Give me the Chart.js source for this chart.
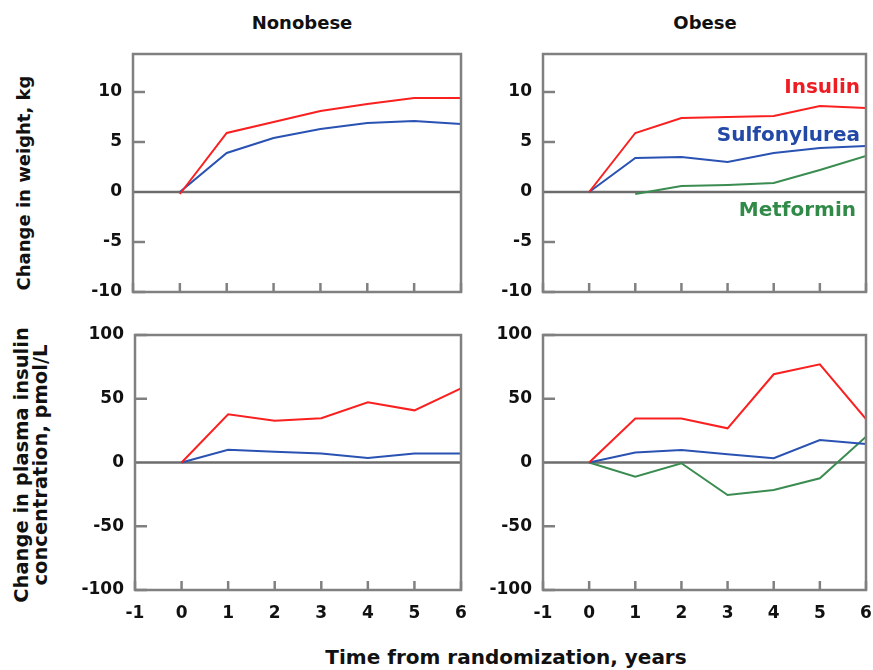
<!DOCTYPE html>
<html><head><meta charset="utf-8">
<script src="https://cdn.jsdelivr.net/npm/chart.js@4/dist/chart.umd.min.js"></script>
<style>
html,body{margin:0;padding:0;background:#fff;}
body{width:873px;height:670px;position:relative;overflow:hidden;font-family:"DejaVu Sans",Verdana,sans-serif;font-weight:bold;}
canvas{position:absolute;}
.t{position:absolute;white-space:nowrap;font-size:18px;color:#111;transform:translate(-50%,-50%);}
.r{position:absolute;white-space:nowrap;font-size:18px;color:#111;text-align:center;line-height:19px;transform:translate(-50%,-50%) rotate(-90deg);}
.lg{position:absolute;white-space:nowrap;font-size:20px;transform:translate(-100%,-50%);}
</style></head><body>
<canvas id="c1"></canvas><canvas id="c2"></canvas><canvas id="c3"></canvas><canvas id="c4"></canvas>
<div class="t" style="left:302px;top:22px">Nonobese</div>
<div class="t" style="left:705px;top:22px">Obese</div>
<div class="t" style="left:506px;top:657px;font-size:20px">Time from randomization, years</div>
<div class="r" style="left:23px;top:183px">Change in weight, kg</div>
<div class="r" style="left:31px;top:465px;font-size:19.5px">Change in plasma insulin<br>concentration, pmol/L</div>
<div class="lg" style="left:860px;top:86px;color:#ee1d23">Insulin</div>
<div class="lg" style="left:860px;top:134px;color:#2249a6">Sulfonylurea</div>
<div class="lg" style="left:856px;top:209px;color:#318a47">Metformin</div>
<script>
// ---- data ----
const years = [0, 1, 2, 3, 4, 5, 6];
const xTicks = [-1, 0, 1, 2, 3, 4, 5, 6];
const weightTicks = [-10, -5, 0, 5, 10];
const insulinTicks = [-100, -50, 0, 50, 100];

const weightNonobeseInsulin = [-0.2, 5.9, 7.0, 8.1, 8.8, 9.4, 9.4];
const weightNonobeseSulfonylurea = [0, 3.9, 5.4, 6.3, 6.9, 7.1, 6.8];
const weightObeseInsulin = [0, 5.9, 7.4, 7.5, 7.6, 8.6, 8.4];
const weightObeseSulfonylurea = [0, 3.4, 3.5, 3.0, 3.9, 4.4, 4.6];
const weightObeseMetformin = [null, -0.2, 0.6, 0.7, 0.9, 2.2, 3.6];

const insulinNonobeseInsulin = [0, 37.8, 32.8, 34.7, 47.2, 40.9, 58.2];
const insulinNonobeseSulfonylurea = [0, 10, 8.5, 7, 3.5, 7, 7];
const insulinObeseInsulin = [0, 34.5, 34.5, 26.8, 69.2, 77.0, 34.0];
const insulinObeseSulfonylurea = [0, 7.8, 9.8, 6.4, 3.3, 17.6, 14.5];
const insulinObeseMetformin = [0, -11.1, -0.6, -25.5, -21.6, -12.4, 20.2];

// ---- styles ----
const RED = '#fa2020', BLUE = '#2a52b2', GREEN = '#3a8c50';
const FRAME = '#808080', ZERO = '#6c6c6c';
const FONT = {family: '"DejaVu Sans", Verdana, sans-serif', size: 17, weight: 'bold'};

const framePlugin = {
  id: 'frame',
  beforeDatasetsDraw(chart) {
    const ctx = chart.ctx, a = chart.chartArea, xs = chart.scales.x, ys = chart.scales.y;
    ctx.save();
    ctx.strokeStyle = ZERO; ctx.lineWidth = 2.5; ctx.lineCap = 'butt';
    const y0 = ys.getPixelForValue(0);
    ctx.beginPath(); ctx.moveTo(a.left, y0); ctx.lineTo(a.right, y0); ctx.stroke();
    ctx.strokeStyle = FRAME; ctx.lineWidth = 2.5;
    ys.ticks.forEach(t => {
      if (t.value === 0) return;
      const p = ys.getPixelForValue(t.value);
      ctx.beginPath(); ctx.moveTo(a.left, p); ctx.lineTo(a.left + 12, p); ctx.stroke();
    });
    xs.ticks.forEach(t => {
      const p = xs.getPixelForValue(t.value);
      ctx.beginPath(); ctx.moveTo(p, a.bottom); ctx.lineTo(p, a.bottom - 9); ctx.stroke();
    });
    ctx.restore();
  },
  afterDatasetsDraw(chart) {
    const ctx = chart.ctx, a = chart.chartArea;
    ctx.save();
    ctx.strokeStyle = FRAME; ctx.lineWidth = 2.5;
    ctx.strokeRect(a.left, a.top, a.right - a.left, a.bottom - a.top);
    ctx.restore();
  }
};

function series(vals, color) {
  const pts = [];
  years.forEach((x, i) => { if (vals[i] !== null) pts.push({x: x, y: vals[i]}); });
  return {data: pts, borderColor: color, borderWidth: 2, pointRadius: 0, fill: false, tension: 0};
}

function makePanel(id, rect, yMin, yMax, yTicks, showX, datasets) {
  const padL = 75, padT = 12, padR = 6;
  const xH = showX ? 45 : 8;
  const cv = document.getElementById(id);
  const w = (rect.R - rect.L) + padL + padR;
  const h = (rect.B - rect.T) + padT + xH;
  cv.width = w; cv.height = h;
  cv.style.left = (rect.L - padL) + 'px';
  cv.style.top = (rect.T - padT) + 'px';
  new Chart(cv, {
    type: 'line',
    data: {datasets: datasets},
    options: {
      responsive: false, animation: false,
      layout: {padding: {left: 0, top: padT, right: padR, bottom: 0}},
      plugins: {legend: {display: false}, tooltip: {enabled: false}},
      scales: {
        x: {
          type: 'linear', min: -1, max: 6,
          grid: {display: false}, border: {display: false},
          afterBuildTicks: s => { s.ticks = xTicks.map(v => ({value: v})); },
          afterFit: s => { s.height = xH; s.paddingLeft = 0; s.paddingRight = 0; },
          ticks: {display: showX, font: FONT, color: '#111', padding: 5, maxRotation: 0, autoSkip: false, callback: v => String(v)}
        },
        y: {
          type: 'linear', min: yMin, max: yMax,
          grid: {display: false}, border: {display: false},
          afterBuildTicks: s => { s.ticks = yTicks.map(v => ({value: v})); },
          afterFit: s => { s.width = padL; s.paddingTop = 0; s.paddingBottom = 0; },
          ticks: {font: FONT, color: '#111', padding: 3, autoSkip: false, callback: v => String(v)}
        }
      }
    },
    plugins: [framePlugin]
  });
}

makePanel('c1', {L: 133, R: 461, T: 54, B: 292}, -10, 13.8, weightTicks, false, [
  series(weightNonobeseInsulin, RED), series(weightNonobeseSulfonylurea, BLUE)]);
makePanel('c2', {L: 543, R: 866, T: 54, B: 292}, -10, 13.8, weightTicks, false, [
  series(weightObeseInsulin, RED), series(weightObeseSulfonylurea, BLUE), series(weightObeseMetformin, GREEN)]);
makePanel('c3', {L: 135, R: 461, T: 335, B: 590}, -100, 100, insulinTicks, true, [
  series(insulinNonobeseInsulin, RED), series(insulinNonobeseSulfonylurea, BLUE)]);
makePanel('c4', {L: 543, R: 866, T: 335, B: 590}, -100, 100, insulinTicks, true, [
  series(insulinObeseInsulin, RED), series(insulinObeseSulfonylurea, BLUE), series(insulinObeseMetformin, GREEN)]);
</script>
</body></html>
